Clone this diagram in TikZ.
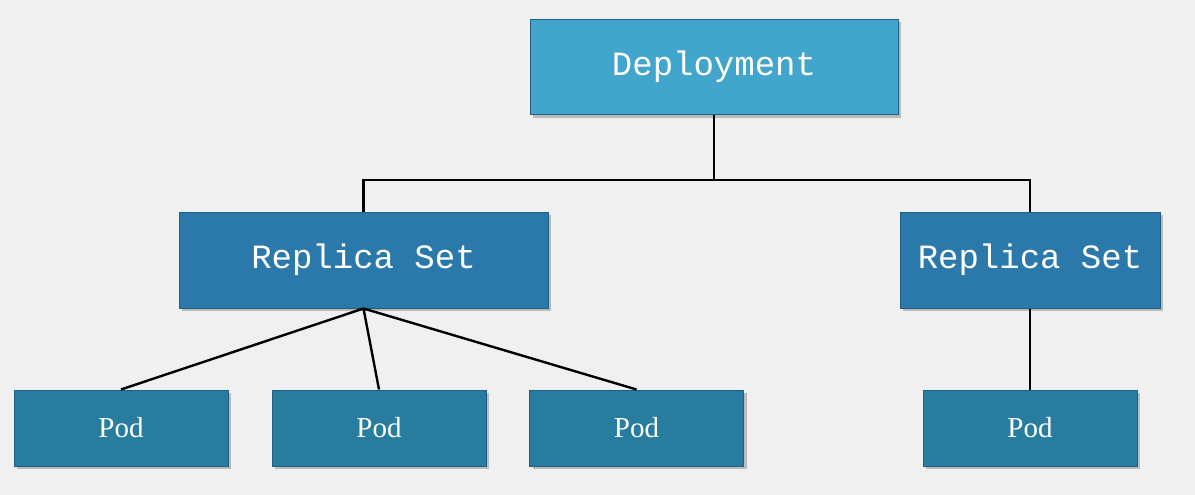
\documentclass[tikz,border=0pt]{standalone}
\usepackage{fontspec}
\setmainfont{Liberation Serif}
\newfontfamily\boxmono{Liberation Mono}
\usetikzlibrary{shadows}
\definecolor{bgc}{HTML}{F1F0F1}
\definecolor{depc}{HTML}{42A5CB}
\definecolor{rsc}{HTML}{2B78AA}
\definecolor{podc}{HTML}{287D9F}
\definecolor{edgec}{HTML}{1F5F80}
\tikzset{
  boxbase/.style={draw=edgec, line width=1pt, inner sep=0pt, text=white,
    drop shadow={shadow xshift=3pt, shadow yshift=-3pt, fill=black, opacity=0.22}},
  depbox/.style={boxbase, fill=depc, minimum width=368pt, minimum height=95pt,
    font=\boxmono\fontsize{34}{34}\selectfont},
  rsbox/.style={boxbase, fill=rsc, minimum height=96pt,
    font=\boxmono\fontsize{34}{34}\selectfont},
  podbox/.style={boxbase, fill=podc, minimum width=214pt, minimum height=76pt,
    font=\fontsize{29}{29}\selectfont},
  link/.style={draw=black, line width=2.4pt}
}
\begin{document}
\begin{tikzpicture}[x=1pt,y=-1pt]
\fill[bgc] (0,0) rectangle (1195,495);
\useasboundingbox (0,0) rectangle (1195,495);
\coordinate (jn) at (714,180);
\node[depbox] (dep) at (714,67) {Deployment};
\node[rsbox, minimum width=369pt] (rs1) at (363.5,260) {Replica Set};
\node[rsbox, minimum width=260pt] (rs2) at (1030,260) {Replica Set};
\node[podbox] (p1) at (121,428) {Pod};
\node[podbox] (p2) at (379,428) {Pod};
\node[podbox] (p3) at (636.5,428) {Pod};
\node[podbox] (p4) at (1030,428) {Pod};
\draw[link] (dep.south) -- (jn);
\draw[link] (rs1.north) |- (jn) -| (rs2.north);
\draw[link] (rs1.south) -- (p1.north);
\draw[link] (rs1.south) -- (p2.north);
\draw[link] (rs1.south) -- (p3.north);
\draw[link] (rs2.south) -- (p4.north);
\end{tikzpicture}
\end{document}
